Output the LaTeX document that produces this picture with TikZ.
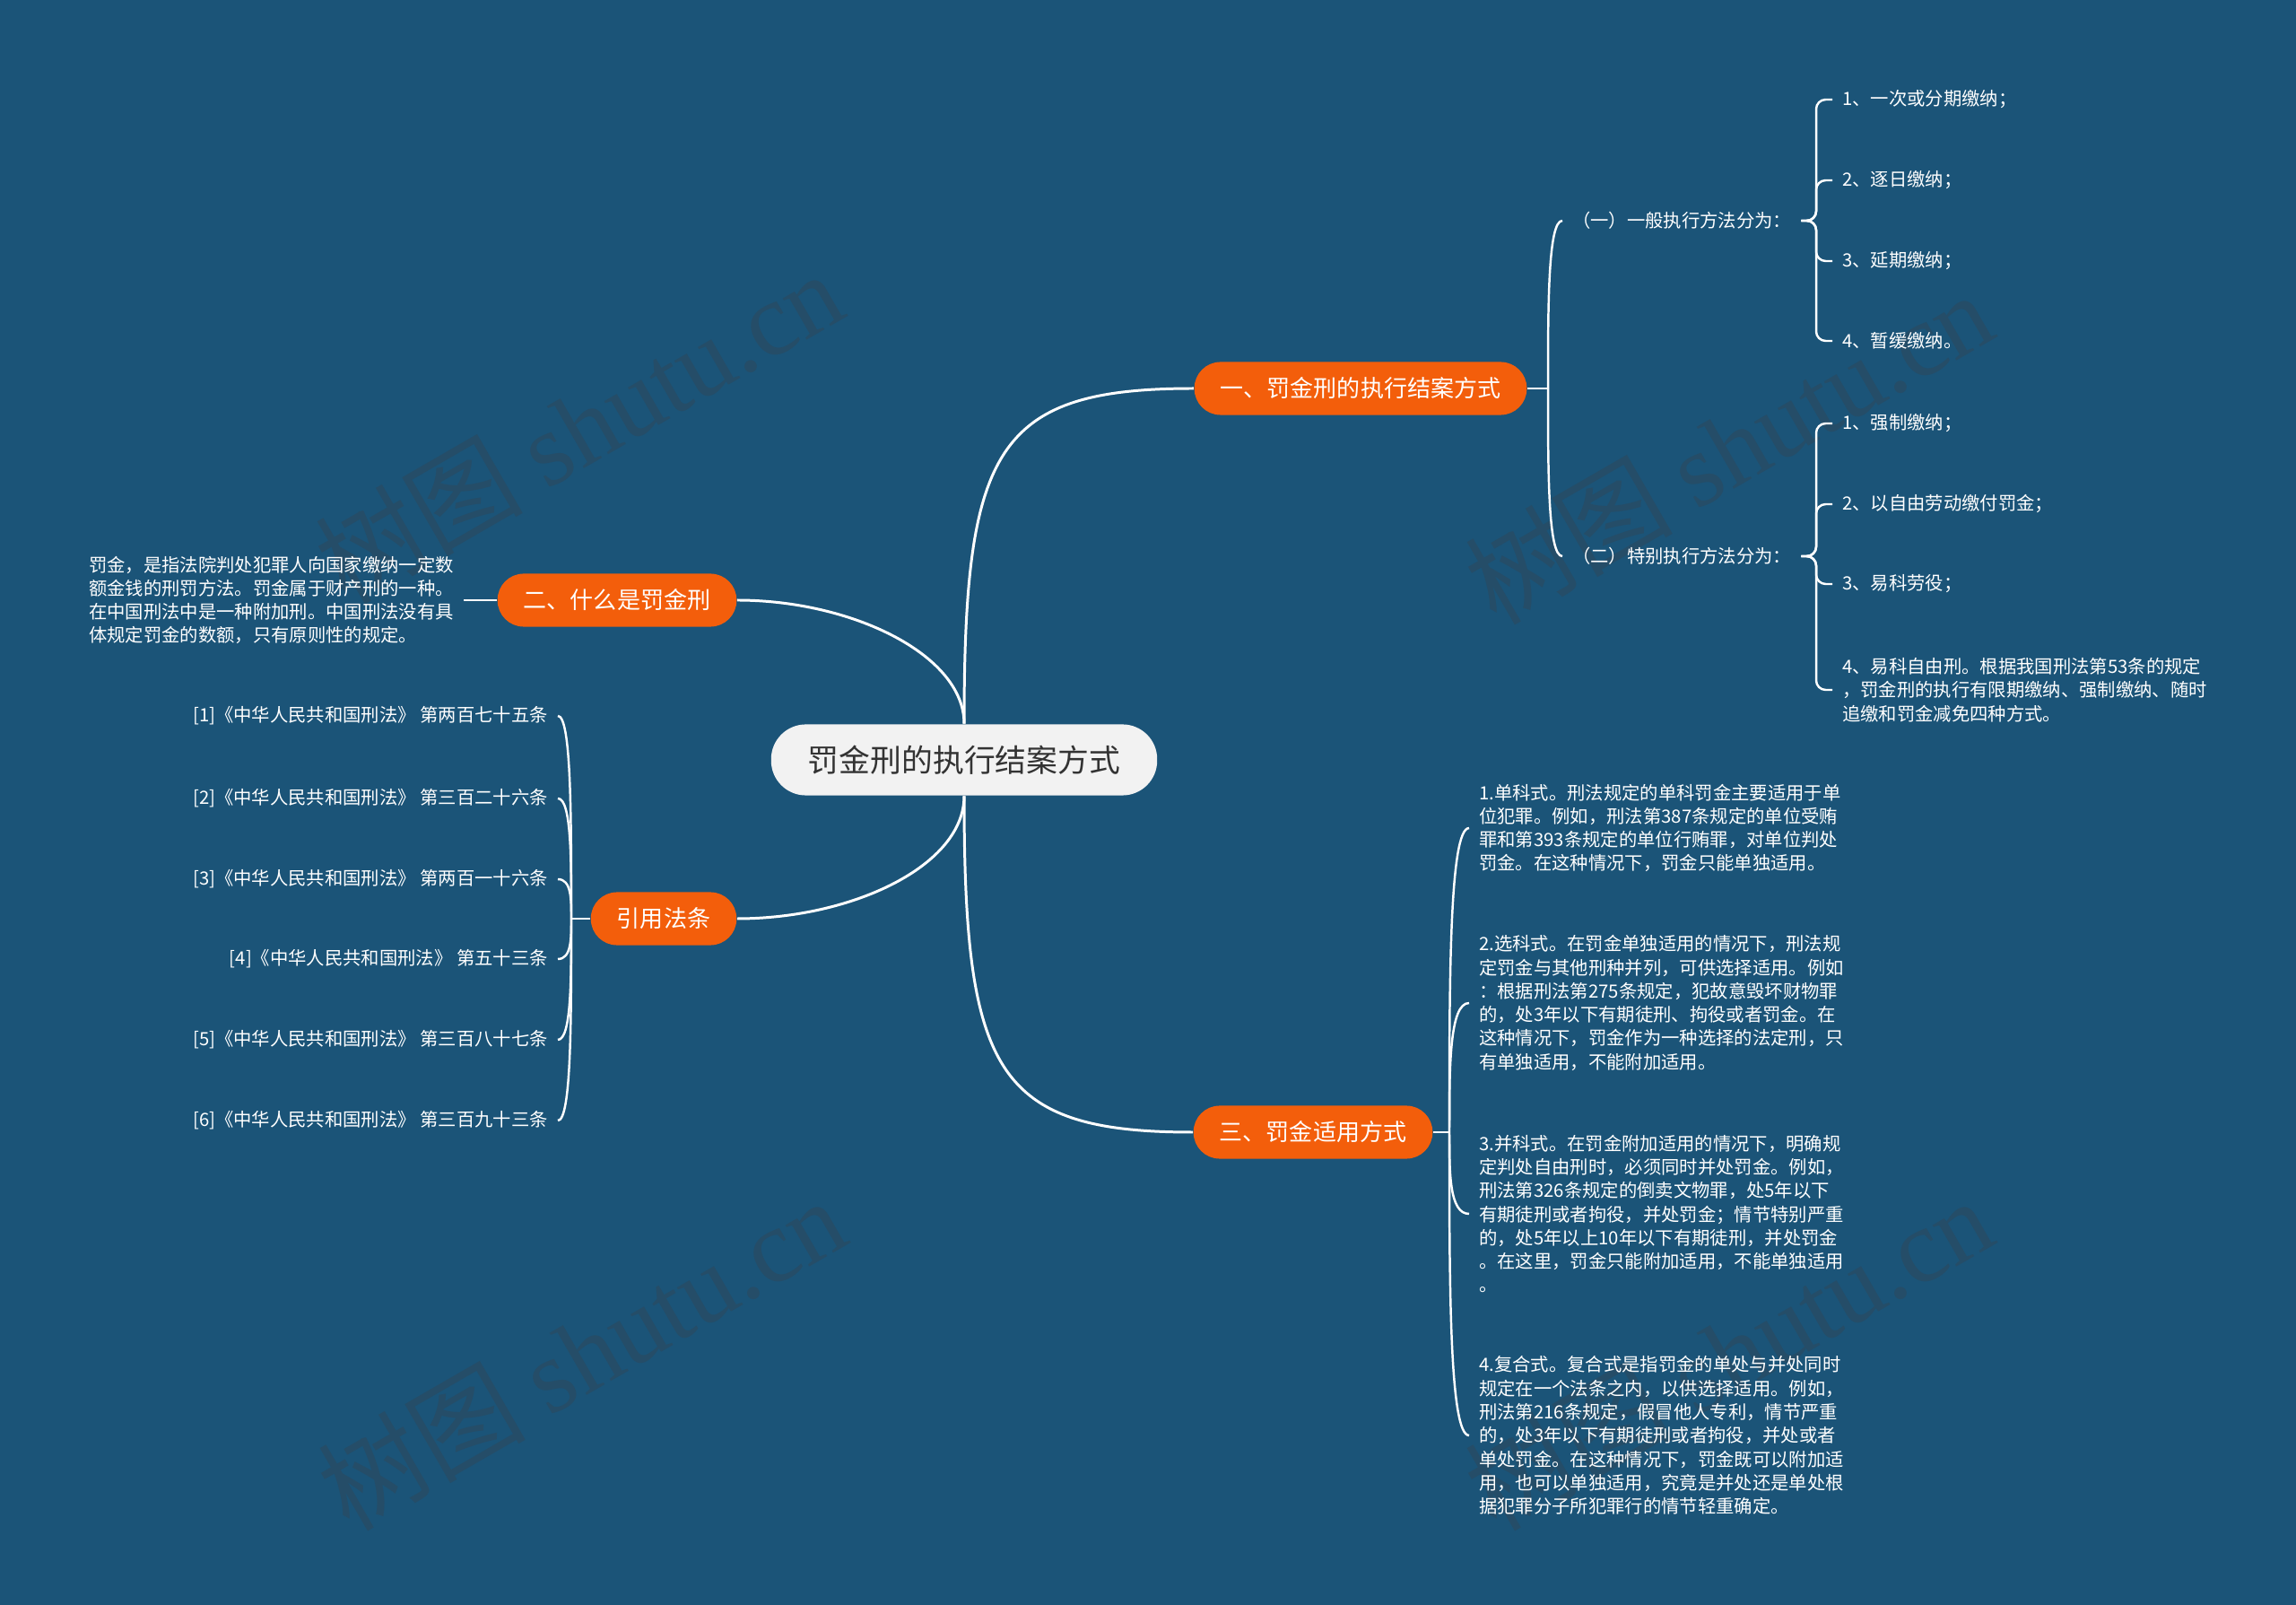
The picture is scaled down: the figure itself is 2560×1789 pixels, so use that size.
\documentclass[tikz,border=0pt]{standalone}
\usepackage{fontspec}
\setmainfont{Noto Sans CJK SC}
\newfontfamily\wmserif{Liberation Serif}
\usepackage{tikz}
\usetikzlibrary{calc}

\definecolor{bgblue}{RGB}{27,84,120}
\definecolor{topicorange}{RGB}{243,94,11}
\definecolor{rootgray}{RGB}{242,242,242}
\definecolor{roottext}{RGB}{51,51,51}
\definecolor{wmark}{RGB}{37,77,104}

\newcommand{\leaffont}{\fontsize{5.78}{7.48}\selectfont}

\begin{document}
\begin{tikzpicture}[x=0.01cm, y=-0.01cm,
    root/.style={fill=rootgray, text=roottext, rounded corners=11pt, minimum height=22.5pt, inner xsep=11.7pt, font=\fontsize{9.9}{11}\selectfont},
    topic/.style={fill=topicorange, text=white, rounded corners=8.3pt, minimum height=16.8pt, inner xsep=8.3pt, font=\fontsize{7.4}{9}\selectfont},
    leaf/.style={text=white, inner xsep=3pt, inner ysep=1pt, align=left, font=\leaffont},
    link/.style={draw=white, line width=0.85pt},
    brace/.style={draw=white, line width=0.7pt},
    wm/.style={text=wmark, rotate=30, font=\fontsize{33}{35}\selectfont},
]

% Background
\useasboundingbox (0,0) rectangle (2560,1789);
\fill[bgblue] (0,0) rectangle (2560,1789);

% Watermarks
\node[wm] (wm1) at (645, 475) {树图 {\wmserif shutu.cn}};
\node[wm] (wm2) at (1927, 498) {树图 {\wmserif shutu.cn}};
\node[wm] (wm3) at (648, 1508) {树图 {\wmserif shutu.cn}};
\node[wm] (wm4) at (1927, 1508) {树图 {\wmserif shutu.cn}};

% Central topic
\node[root] (root) at (1075, 847) {罚金刑的执行结案方式};

% Main topics
\node[topic] (exec) at (1517, 433) {一、罚金刑的执行结案方式};
\node[topic] (what) at (688, 669) {二、什么是罚金刑};
\node[topic] (cite) at (740, 1024) {引用法条};
\node[topic] (apply) at (1464, 1262) {三、罚金适用方式};

% Execution methods
\node[leaf, anchor=west] (gen) at (1742, 246) {（一）一般执行方法分为：};
\node[leaf, anchor=west] (spe) at (1742, 620) {（二）特别执行方法分为：};
\node[leaf, anchor=west] (g1) at (2043, 111) {1、一次或分期缴纳；};
\node[leaf, anchor=west] (g2) at (2043, 201) {2、逐日缴纳；};
\node[leaf, anchor=west] (g3) at (2043, 291) {3、延期缴纳；};
\node[leaf, anchor=west] (g4) at (2043, 380) {4、暂缓缴纳。};
\node[leaf, anchor=west] (s1) at (2043, 472) {1、强制缴纳；};
\node[leaf, anchor=west] (s2) at (2043, 562) {2、以自由劳动缴付罚金；};
\node[leaf, anchor=west] (s3) at (2043, 651) {3、易科劳役；};
\node[leaf, anchor=west] (s4) at (2043, 769) {4、易科自由刑。根据我国刑法第53条的规定\\，罚金刑的执行有限期缴纳、强制缴纳、随时\\追缴和罚金减免四种方式。};

% Definition
\node[leaf, anchor=west] (def) at (88, 669) {罚金，是指法院判处犯罪人向国家缴纳一定数\\额金钱的刑罚方法。罚金属于财产刑的一种。\\在中国刑法中是一种附加刑。中国刑法没有具\\体规定罚金的数额，只有原则性的规定。};

% Cited articles
\node[leaf, anchor=east] (c1) at (622, 798) {[1]《中华人民共和国刑法》 第两百七十五条};
\node[leaf, anchor=east] (c2) at (622, 890) {[2]《中华人民共和国刑法》 第三百二十六条};
\node[leaf, anchor=east] (c3) at (622, 980) {[3]《中华人民共和国刑法》 第两百一十六条};
\node[leaf, anchor=east] (c4) at (622, 1069) {[4]《中华人民共和国刑法》 第五十三条};
\node[leaf, anchor=east] (c5) at (622, 1159) {[5]《中华人民共和国刑法》 第三百八十七条};
\node[leaf, anchor=east] (c6) at (622, 1249) {[6]《中华人民共和国刑法》 第三百九十三条};

% Application forms
\node[leaf, anchor=west] (p1) at (1638, 923) {1.单科式。刑法规定的单科罚金主要适用于单\\位犯罪。例如，刑法第387条规定的单位受贿\\罪和第393条规定的单位行贿罪，对单位判处\\罚金。在这种情况下，罚金只能单独适用。};
\node[leaf, anchor=west] (p2) at (1638, 1118) {2.选科式。在罚金单独适用的情况下，刑法规\\定罚金与其他刑种并列，可供选择适用。例如\\：根据刑法第275条规定，犯故意毁坏财物罪\\的，处3年以下有期徒刑、拘役或者罚金。在\\这种情况下，罚金作为一种选择的法定刑，只\\有单独适用，不能附加适用。};
\node[leaf, anchor=west] (p3) at (1638, 1353) {3.并科式。在罚金附加适用的情况下，明确规\\定判处自由刑时，必须同时并处罚金。例如，\\刑法第326条规定的倒卖文物罪，处5年以下\\有期徒刑或者拘役，并处罚金；情节特别严重\\的，处5年以上10年以下有期徒刑，并处罚金\\。在这里，罚金只能附加适用，不能单独适用\\。};
\node[leaf, anchor=west] (p4) at (1638, 1600) {4.复合式。复合式是指罚金的单处与并处同时\\规定在一个法条之内，以供选择适用。例如，\\刑法第216条规定，假冒他人专利，情节严重\\的，处3年以下有期徒刑或者拘役，并处或者\\单处罚金。在这种情况下，罚金既可以附加适\\用，也可以单独适用，究竟是并处还是单处根\\据犯罪分子所犯罪行的情节轻重确定。};

% Junctions
\coordinate (jexec) at (1726, 433);
\coordinate (jgen) at (2025, 246);
\coordinate (jspe) at (2025, 620);
\coordinate (jcite) at (637, 1024);
\coordinate (japply) at (1616, 1262);

% Central links
\draw[link] (root.north) .. controls (1075, 500) and (1110, 433) .. (exec.west);
\draw[link] (root.north) .. controls (1075, 730) and (950, 669) .. (what.east);
\draw[link] (root.south) .. controls (1075, 965) and (950, 1024) .. (cite.east);
\draw[link] (root.south) .. controls (1075, 1195) and (1110, 1262) .. (apply.west);

% Execution braces
\draw[brace] (exec.east) -- (jexec);
\draw[brace] (jexec) .. controls ($(jexec)!.5!(jexec |- gen.west)$) and (jexec |- gen.west) .. (gen.west);
\draw[brace] (jexec) .. controls ($(jexec)!.5!(jexec |- spe.west)$) and (jexec |- spe.west) .. (spe.west);
\draw[brace, rounded corners=3pt] (gen.east) -- (jgen) |- (g1.west);
\draw[brace, rounded corners=3pt] (gen.east) -- (jgen) |- (g2.west);
\draw[brace, rounded corners=3pt] (gen.east) -- (jgen) |- (g3.west);
\draw[brace, rounded corners=3pt] (gen.east) -- (jgen) |- (g4.west);
\draw[brace, rounded corners=3pt] (spe.east) -- (jspe) |- (s1.west);
\draw[brace, rounded corners=3pt] (spe.east) -- (jspe) |- (s2.west);
\draw[brace, rounded corners=3pt] (spe.east) -- (jspe) |- (s3.west);
\draw[brace, rounded corners=3pt] (spe.east) -- (jspe) |- (s4.west);

% Definition link
\draw[brace] (def.east) -- (what.west);

% Citation braces
\draw[brace] (cite.west) -- (jcite);
\draw[brace] (jcite) .. controls ($(jcite)!.5!(jcite |- c1.east)$) and (jcite |- c1.east) .. (c1.east);
\draw[brace] (jcite) .. controls ($(jcite)!.5!(jcite |- c2.east)$) and (jcite |- c2.east) .. (c2.east);
\draw[brace] (jcite) .. controls ($(jcite)!.5!(jcite |- c3.east)$) and (jcite |- c3.east) .. (c3.east);
\draw[brace] (jcite) .. controls ($(jcite)!.5!(jcite |- c4.east)$) and (jcite |- c4.east) .. (c4.east);
\draw[brace] (jcite) .. controls ($(jcite)!.5!(jcite |- c5.east)$) and (jcite |- c5.east) .. (c5.east);
\draw[brace] (jcite) .. controls ($(jcite)!.5!(jcite |- c6.east)$) and (jcite |- c6.east) .. (c6.east);

% Application braces
\draw[brace] (apply.east) -- (japply);
\draw[brace] (japply) .. controls ($(japply)!.5!(japply |- p1.west)$) and (japply |- p1.west) .. (p1.west);
\draw[brace] (japply) .. controls ($(japply)!.5!(japply |- p2.west)$) and (japply |- p2.west) .. (p2.west);
\draw[brace] (japply) .. controls ($(japply)!.5!(japply |- p3.west)$) and (japply |- p3.west) .. (p3.west);
\draw[brace] (japply) .. controls ($(japply)!.5!(japply |- p4.west)$) and (japply |- p4.west) .. (p4.west);

\end{tikzpicture}
\end{document}
